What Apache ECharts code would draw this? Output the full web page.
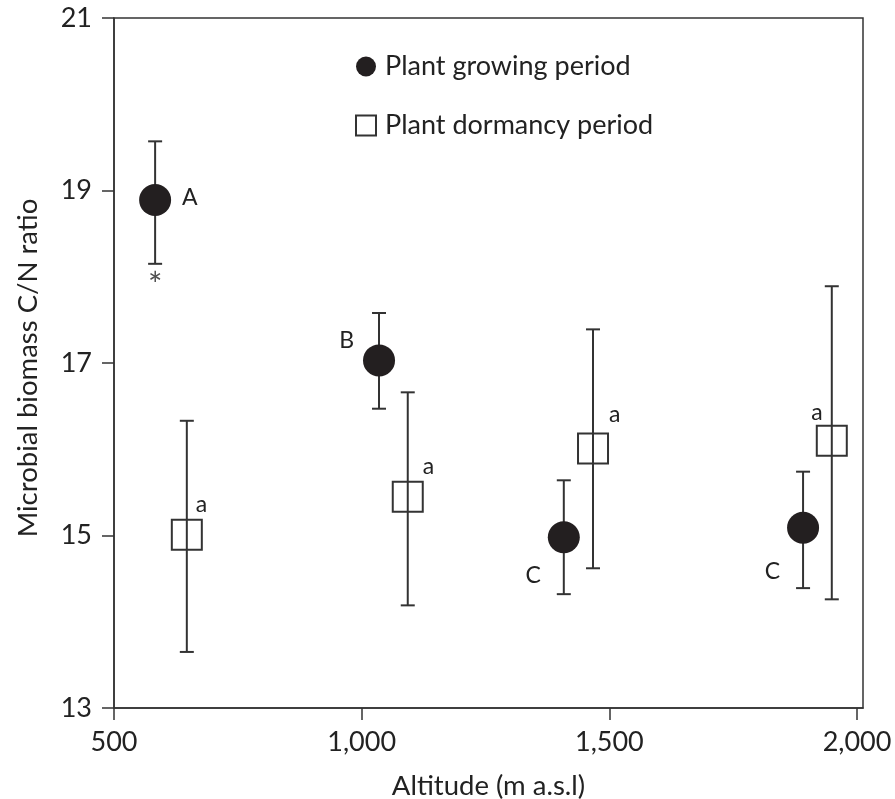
<!DOCTYPE html>
<html>
<head>
<meta charset="utf-8">
<script src="https://cdn.jsdelivr.net/npm/echarts@6/dist/echarts.min.js"></script>
<style>
  html, body { margin: 0; padding: 0; background: #fff; }
  #chart { width: 895px; height: 799px; }
</style>
</head>
<body>
<div id="chart"></div>
<script>
// values
var growAltitude = [583, 1035, 1408, 1891];
var growMean = [18.89, 17.03, 14.98, 15.09];
var growLow = [18.15, 16.47, 14.32, 14.39];
var growHigh = [19.57, 17.58, 15.64, 15.74];
var growLetters = ['A', 'B', 'C', 'C'];

var dormAltitude = [647, 1093, 1467, 1949];
var dormMean = [15.01, 15.45, 16.01, 16.10];
var dormLow = [13.65, 14.19, 14.62, 14.26];
var dormHigh = [16.33, 16.66, 17.39, 17.89];
var dormLetters = ['a', 'a', 'a', 'a'];

var xTicks = [500, 1000, 1500, 2000];
var yTicks = [13, 15, 17, 19, 21];

var FONT = 'Lato';
var INK = '#231f20';
var LINE = '#333333';
var TEXT = '#222222';

// where the small letter sits relative to its marker
var growLabelPos = [
    { position: 'right', offset: [6, -2] },
    { position: 'left', offset: [-4, -20] },
    { position: 'left', offset: [-2, 38] },
    { position: 'left', offset: [-2, 44] }
];
var dormLabelPos = [
    { position: 'right', offset: [-12, -30] },
    { position: 'right', offset: [-6, -30] },
    { position: 'right', offset: [-5, -34] },
    { position: 'left', offset: [12, -28] }
];

function pointData(alt, mean, letters, pos) {
    return alt.map(function (a, i) {
        return {
            value: [a, mean[i]],
            label: {
                show: true,
                formatter: letters[i],
                position: pos[i].position,
                offset: pos[i].offset,
                color: TEXT,
                fontFamily: FONT,
                fontSize: 23
            }
        };
    });
}

function barData(alt, low, high) {
    return alt.map(function (a, i) { return [a, low[i], high[i]]; });
}

function renderErrorBar(params, api) {
    var top = api.coord([api.value(0), api.value(2)]);
    var bottom = api.coord([api.value(0), api.value(1)]);
    var half = 7;
    var style = { stroke: LINE, lineWidth: 2 };
    return {
        type: 'group',
        children: [
            { type: 'line', shape: { x1: top[0], y1: top[1], x2: bottom[0], y2: bottom[1] }, style: style },
            { type: 'line', shape: { x1: top[0] - half, y1: top[1], x2: top[0] + half, y2: top[1] }, style: style },
            { type: 'line', shape: { x1: bottom[0] - half, y1: bottom[1], x2: bottom[0] + half, y2: bottom[1] }, style: style }
        ]
    };
}

var chart = echarts.init(document.getElementById('chart'), null, { renderer: 'canvas' });

var option = {
    animation: false,
    backgroundColor: '#fff',
    grid: {
        left: 114,
        top: 18,
        right: 32,
        bottom: 91,
        outerBoundsMode: 'none',
        containLabel: false,
        show: true,
        borderColor: LINE,
        borderWidth: 1.5
    },
    legend: {
        orient: 'vertical',
        left: 350,
        top: 48,
        itemGap: 32,
        itemWidth: 20,
        itemHeight: 20,
        textStyle: { color: TEXT, fontFamily: FONT, fontSize: 27, padding: [0, 0, 0, 4] },
        data: [
            { name: 'Plant growing period', icon: 'circle' },
            { name: 'Plant dormancy period', icon: 'rect', itemStyle: { color: 'transparent', borderColor: LINE, borderWidth: 2 } }
        ]
    },
    xAxis: {
        type: 'value',
        min: 500,
        max: 2012,
        name: 'Altitude (m a.s.l)',
        nameLocation: 'middle',
        nameGap: 64,
        nameTextStyle: { color: TEXT, fontFamily: FONT, fontSize: 27.5 },
        splitLine: { show: false },
        axisLine: { lineStyle: { color: LINE, width: 1.5 } },
        axisTick: { show: true, inside: false, length: 12, customValues: xTicks, lineStyle: { color: LINE, width: 1.5 } },
        axisLabel: {
            customValues: xTicks,
            margin: 21,
            color: TEXT,
            fontFamily: FONT,
            fontSize: 27,
            formatter: function (v) { return v.toLocaleString('en-US'); }
        }
    },
    yAxis: {
        type: 'value',
        min: 13,
        max: 21,
        interval: 2,
        name: 'Microbial biomass C/N ratio',
        nameLocation: 'middle',
        nameGap: 72,
        nameTextStyle: { color: TEXT, fontFamily: FONT, fontSize: 27.5, padding: [0, 10, 0, 0] },
        splitLine: { show: false },
        axisLine: { show: true, lineStyle: { color: LINE, width: 1.5 } },
        axisTick: { show: true, inside: false, length: 12, customValues: yTicks, lineStyle: { color: LINE, width: 1.5 } },
        axisLabel: {
            customValues: yTicks,
            margin: 22,
            color: TEXT,
            fontFamily: FONT,
            fontSize: 27
        }
    },
    series: [
        {
            name: 'growing error',
            type: 'custom',
            renderItem: renderErrorBar,
            data: barData(growAltitude, growLow, growHigh),
            z: 1,
            silent: true
        },
        {
            name: 'dormancy error',
            type: 'custom',
            renderItem: renderErrorBar,
            data: barData(dormAltitude, dormLow, dormHigh),
            z: 1,
            silent: true
        },
        {
            name: 'Plant growing period',
            type: 'scatter',
            symbol: 'circle',
            symbolSize: 32,
            itemStyle: { color: INK, opacity: 1 },
            data: pointData(growAltitude, growMean, growLetters, growLabelPos),
            z: 3
        },
        {
            name: 'Plant dormancy period',
            type: 'scatter',
            symbol: 'rect',
            symbolSize: 30,
            itemStyle: { color: 'transparent', borderColor: LINE, borderWidth: 2, opacity: 1 },
            data: pointData(dormAltitude, dormMean, dormLetters, dormLabelPos),
            z: 3
        },
        {
            // asterisk under the lowland growing-period bar
            name: 'significance',
            type: 'scatter',
            symbol: 'circle',
            symbolSize: 1,
            itemStyle: { color: 'transparent' },
            data: [{
                value: [growAltitude[0], growLow[0]],
                label: { show: true, formatter: '*', position: 'bottom', offset: [0, 0], color: TEXT, fontFamily: FONT, fontSize: 34 }
            }],
            z: 3
        }
    ]
};

chart.setOption(option);
</script>
</body>
</html>
